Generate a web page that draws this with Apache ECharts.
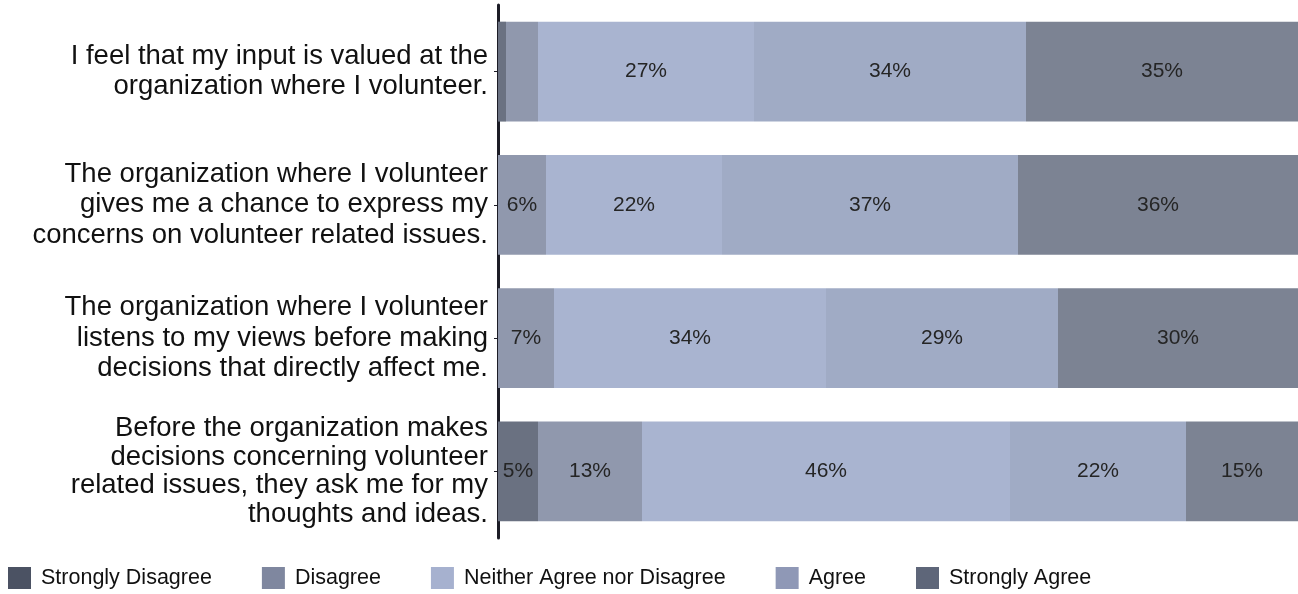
<!DOCTYPE html>
<html>
<head>
<meta charset="utf-8">
<script src="https://cdn.jsdelivr.net/npm/echarts@6/dist/echarts.min.js"></script>
<style>
  html, body { margin: 0; padding: 0; background: #fff; }
  #chart { width: 1298px; height: 594px; }
</style>
</head>
<body>
<div id="chart"></div>
<script>
// Survey statements (top to bottom)
const statements = [
  "I feel that my input is valued at the\norganization where I volunteer.",
  "The organization where I volunteer\ngives me a chance to express my\nconcerns on volunteer related issues.",
  "The organization where I volunteer\nlistens to my views before making\ndecisions that directly affect me.",
  "Before the organization makes\ndecisions concerning volunteer\nrelated issues, they ask me for my\nthoughts and ideas."
];

// Response shares (%) per statement
const stronglyDisagree = [1, 0, 0, 5];
const disagree         = [4, 6, 7, 13];
const neither          = [27, 22, 34, 46];
const agree            = [34, 37, 29, 22];
const stronglyAgree    = [35, 36, 30, 15];

const seriesNames = ["Strongly Disagree", "Disagree", "Neither Agree nor Disagree", "Agree", "Strongly Agree"];
const seriesValues = [stronglyDisagree, disagree, neither, agree, stronglyAgree];
const barColors    = ["#6a7181", "#9098ad", "#a9b4d0", "#a0abc5", "#7c8393"];
const legendColors = ["#4b5263", "#7f879f", "#a6b1cf", "#8f98b6", "#5e6679"];

const FONT = "Liberation Sans, Arial, sans-serif";

// the four-line statement is set a little tighter so it fits its row
const categoryItems = statements.map(s => ({
  value: s,
  textStyle: { lineHeight: s.split("\n").length > 3 ? 28.5 : 30.5 }
}));

const chart = echarts.init(document.getElementById("chart"));

chart.setOption({
  animation: false,
  backgroundColor: "#ffffff",
  grid: { left: 498, right: 0, top: 5, bottom: 56, containLabel: false },
  legend: {
    left: 3,
    top: 562,
    itemWidth: 23,
    itemHeight: 22,
    itemGap: 50,
    icon: "rect",
    textStyle: { fontFamily: FONT, fontSize: 21.5, color: "#111", padding: [0, 0, 0, 5] },
    data: seriesNames.map((n, i) => ({ name: n, itemStyle: { color: legendColors[i] } }))
  },
  xAxis: {
    type: "value",
    min: 0,
    max: 100,
    show: false
  },
  yAxis: {
    type: "category",
    inverse: true,
    data: categoryItems,
    axisLine: { show: true, lineStyle: { color: "#1c1c26", width: 3 } },
    axisTick: { show: true, alignWithLabel: true, length: 4, lineStyle: { color: "#1c1c26", width: 1 } },
    axisLabel: {
      margin: 10,
      align: "right",
      fontFamily: FONT,
      fontSize: 27.5,
      lineHeight: 30.5,
      color: "#111"
    },
    splitLine: { show: false }
  },
  series: seriesValues.map((vals, i) => ({
    name: seriesNames[i],
    type: "bar",
    stack: "total",
    barCategoryGap: "25%",
    data: vals,
    itemStyle: { color: barColors[i] },
    label: {
      show: true,
      position: "inside",
      fontFamily: FONT,
      fontSize: 21,
      color: "#252525",
      formatter: p => (p.value >= 5 ? p.value + "%" : "")
    }
  }))
});
</script>
</body>
</html>
